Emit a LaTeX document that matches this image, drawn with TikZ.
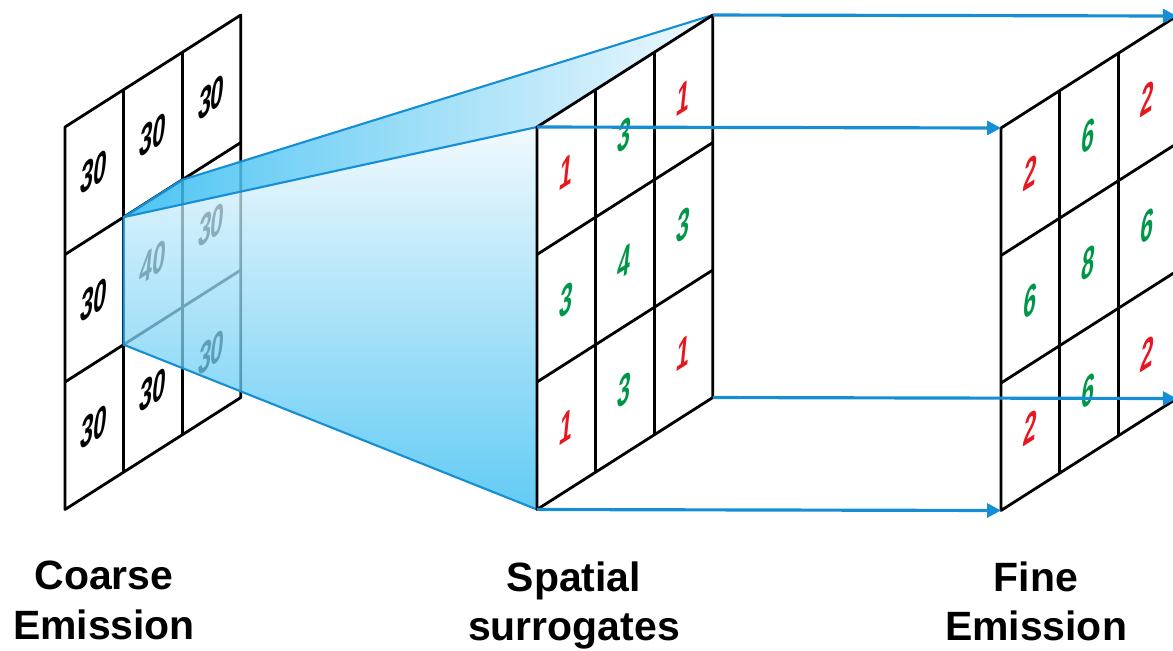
\documentclass[tikz,border=0pt]{standalone}
\usepackage{fontspec}
\setmainfont{Liberation Sans}
\usetikzlibrary{arrows.meta}

\definecolor{flowblue}{RGB}{22,142,214}
\definecolor{surrcyan}{RGB}{45,186,240}
\definecolor{surrpale}{RGB}{236,247,253}
\definecolor{numred}{RGB}{232,22,30}
\definecolor{numgreen}{RGB}{0,150,72}

\begin{document}
\begin{tikzpicture}[x=0.02cm, y=-0.02cm,
  gridline/.style={line width=1.6pt, line join=round},
  cellnum/.style={font=\fontsize{24}{24}\selectfont\bfseries, transform shape, xscale=0.55, xslant=0.2, inner sep=0},
  edge/.style={draw=flowblue, line width=1.2pt, line join=round},
  flow/.style={draw=flowblue, line width=1.8pt, -{Triangle[length=0.28cm, width=0.28cm]}},
  caption/.style={font=\fontsize{23.3}{28}\selectfont\bfseries, align=center, anchor=north, inner sep=0}]
  \def\cw{58.6}
  \def\ch{127.5}
  \useasboundingbox (0,0) rectangle (1173,650);
  \clip (0,0) rectangle (1173,650);

  % coarse grid
  \begin{scope}[shift={(65,127)}, yslant=0.637]
    \draw[gridline] (0,0) rectangle (3*\cw,3*\ch);
    \foreach \i in {1,2} \draw[gridline] (\i*\cw,0) -- (\i*\cw,3*\ch);
    \foreach \j in {1,2} \draw[gridline] (0,\j*\ch) -- (3*\cw,\j*\ch);
    \foreach \v [count=\k from 0] in {30,30,30,30,40,30,30,30,30} {
      \pgfmathtruncatemacro\i{mod(\k,3)}
      \pgfmathtruncatemacro\j{div(\k,3)}
      \node[cellnum] (coarse-\k) at ({(\i+0.5)*\cw},{(\j+0.5)*\ch}) {\v};
    }
    \coordinate (src-tl) at (\cw,\ch);
    \coordinate (src-tr) at (2*\cw,\ch);
    \coordinate (src-bl) at (\cw,2*\ch);
  \end{scope}

  % middle grid corners
  \begin{scope}[shift={(537,127)}, yslant=0.637]
    \coordinate (mid-tl) at (0,0);
    \coordinate (mid-tr) at (3*\cw,0);
    \coordinate (mid-bl) at (0,3*\ch);
    \coordinate (mid-br) at (3*\cw,3*\ch);
  \end{scope}

  % projection volume
  \shade[left color=surrcyan, right color=surrpale, fill opacity=0.85]
    (src-tl) -- (src-tr) -- (mid-tr) -- (mid-tl) -- cycle;
  \shade[top color=surrpale, bottom color=surrcyan, fill opacity=0.75]
    (src-tl) -- (mid-tl) -- (mid-bl) -- (src-bl) -- cycle;
  \draw[edge] (mid-tl) -- (src-tl) -- (src-bl) -- (mid-bl);
  \draw[edge] (src-tl) -- (src-tr) -- (mid-tr);

  % spatial surrogates
  \begin{scope}[shift={(537,127)}, yslant=0.637]
    \draw[gridline] (0,0) rectangle (3*\cw,3*\ch);
    \foreach \i in {1,2} \draw[gridline] (\i*\cw,0) -- (\i*\cw,3*\ch);
    \foreach \j in {1,2} \draw[gridline] (0,\j*\ch) -- (3*\cw,\j*\ch);
    \foreach \v/\c [count=\k from 0] in {1/numred,3/numgreen,1/numred,3/numgreen,4/numgreen,3/numgreen,1/numred,3/numgreen,1/numred} {
      \pgfmathtruncatemacro\i{mod(\k,3)}
      \pgfmathtruncatemacro\j{div(\k,3)}
      \node[cellnum, text=\c] (surr-\k) at ({(\i+0.5)*\cw},{(\j+0.5)*\ch}) {\v};
    }
  \end{scope}

  % fine grid
  \begin{scope}[shift={(1001,128)}, yslant=0.637]
    \draw[gridline] (0,0) rectangle (3*\cw,3*\ch);
    \foreach \i in {1,2} \draw[gridline] (\i*\cw,0) -- (\i*\cw,3*\ch);
    \foreach \j in {1,2} \draw[gridline] (0,\j*\ch) -- (3*\cw,\j*\ch);
    \foreach \v/\c [count=\k from 0] in {2/numred,6/numgreen,2/numred,6/numgreen,8/numgreen,6/numgreen,2/numred,6/numgreen,2/numred} {
      \pgfmathtruncatemacro\i{mod(\k,3)}
      \pgfmathtruncatemacro\j{div(\k,3)}
      \node[cellnum, text=\c] (fine-\k) at ({(\i+0.5)*\cw},{(\j+0.5)*\ch}) {\v};
    }
    \coordinate (fine-tl) at (0,0);
    \coordinate (fine-tr) at (3*\cw,0);
    \coordinate (fine-bl) at (0,3*\ch);
    \coordinate (fine-br) at (3*\cw,3*\ch);
  \end{scope}

  \draw[flow] (mid-tr) -- (fine-tr);
  \draw[flow] (mid-tl) -- (fine-tl);
  \draw[flow] (mid-br) -- (fine-br);
  \draw[flow] (mid-bl) -- (fine-bl);

  \node[caption] (lbl-coarse) at (104,561) {Coarse\\Emission};
  \node[caption] (lbl-surr) at (574,561) {Spatial\\surrogates};
  \node[caption] (lbl-fine) at (1036,561) {Fine\\Emission};
\end{tikzpicture}
\end{document}
